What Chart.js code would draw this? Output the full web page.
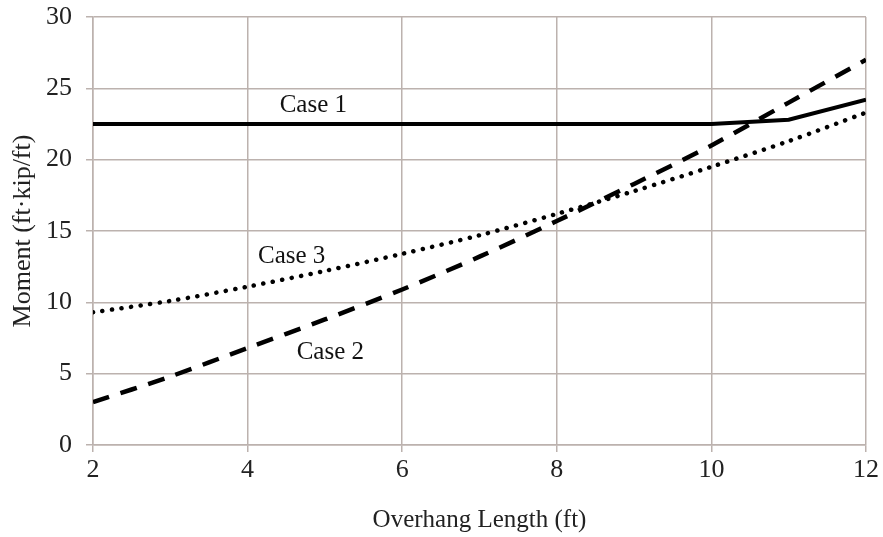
<!DOCTYPE html>
<html>
<head>
<meta charset="utf-8">
<script src="https://cdn.jsdelivr.net/npm/chart.js@4"></script>
<style>
  html, body { margin: 0; padding: 0; background: #fff; }
  #wrap { width: 883px; height: 537px; }
</style>
</head>
<body>
<div id="wrap"><canvas id="chart" width="883" height="537"></canvas></div>
<script>
const lengths = [2, 3, 4, 5, 6, 7, 8, 9, 10, 11, 12];
const case1 = [22.5, 22.5, 22.5, 22.5, 22.5, 22.5, 22.5, 22.5, 22.5, 22.8, 24.2];
const case2 = [3.0, 4.8, 6.8, 8.8, 10.9, 13.2, 15.7, 18.3, 21.0, 24.0, 27.0];
const case3 = [9.3, 10.1, 11.1, 12.2, 13.4, 14.7, 16.2, 17.8, 19.5, 21.3, 23.3];
const caseLabels = [
    { text: 'Case 1', x: 4.85, y: 23.8 },
    { text: 'Case 3', x: 4.57, y: 13.2 },
    { text: 'Case 2', x: 5.07, y: 6.5 }
];

const serif = 'Liberation Serif';
const gridColor = '#bcb2ae';

function pts(ys) {
    return lengths.map((x, i) => ({ x: x, y: ys[i] }));
}

const labelPlugin = {
    id: 'caseLabels',
    afterDatasetsDraw(chart) {
        const ctx = chart.ctx;
        const xs = chart.scales.x;
        const ys = chart.scales.y;
        ctx.save();
        ctx.font = '25px "' + serif + '"';
        ctx.fillStyle = '#111';
        ctx.textAlign = 'center';
        ctx.textBaseline = 'middle';
        caseLabels.forEach(l => {
            ctx.fillText(l.text, xs.getPixelForValue(l.x), ys.getPixelForValue(l.y));
        });
        ctx.restore();
    }
};

new Chart(document.getElementById('chart'), {
    type: 'line',
    data: {
        datasets: [
            {
                label: 'Case 1',
                data: pts(case1),
                borderColor: '#000',
                borderWidth: 4,
                pointRadius: 0,
                tension: 0
            },
            {
                label: 'Case 2',
                data: pts(case2),
                borderColor: '#000',
                borderWidth: 4.5,
                borderDash: [17, 12],
                pointRadius: 0,
                tension: 0.3
            },
            {
                label: 'Case 3',
                data: pts(case3),
                borderColor: '#000',
                borderWidth: 4.5,
                borderDash: [0.1, 9.5],
                borderCapStyle: 'round',
                pointRadius: 0,
                tension: 0.3
            }
        ]
    },
    options: {
        responsive: false,
        animation: false,
        layout: {
            padding: { top: 17, right: 17, left: 0, bottom: 0 }
        },
        plugins: {
            legend: { display: false },
            tooltip: { enabled: false }
        },
        scales: {
            x: {
                type: 'linear',
                min: 2,
                max: 12,
                afterFit(scale) {
                    scale.height = 92;
                    scale.paddingLeft = 0;
                    scale.paddingRight = 0;
                },
                ticks: {
                    stepSize: 2,
                    padding: 5,
                    color: '#222',
                    font: { family: serif, size: 26, lineHeight: 1 }
                },
                grid: {
                    color: gridColor,
                    lineWidth: 1.5,
                    tickLength: 7
                },
                border: { color: gridColor, width: 1.5 },
                title: {
                    display: true,
                    text: 'Overhang Length (ft)',
                    color: '#222',
                    font: { family: serif, size: 25 },
                    padding: { top: 0, bottom: 2 }
                }
            },
            y: {
                min: 0,
                max: 30,
                afterFit(scale) {
                    scale.width = 93;
                    scale.paddingTop = 0;
                    scale.paddingBottom = 0;
                },
                ticks: {
                    stepSize: 5,
                    padding: 14,
                    color: '#222',
                    font: { family: serif, size: 26, lineHeight: 1 }
                },
                grid: {
                    color: gridColor,
                    lineWidth: 1.5,
                    tickLength: 7
                },
                border: { color: gridColor, width: 1.5 },
                title: {
                    display: true,
                    text: 'Moment (ft·kip/ft)',
                    color: '#222',
                    font: { family: serif, size: 26 },
                    padding: { top: 8, bottom: 0 }
                }
            }
        }
    },
    plugins: [labelPlugin]
});
</script>
</body>
</html>
